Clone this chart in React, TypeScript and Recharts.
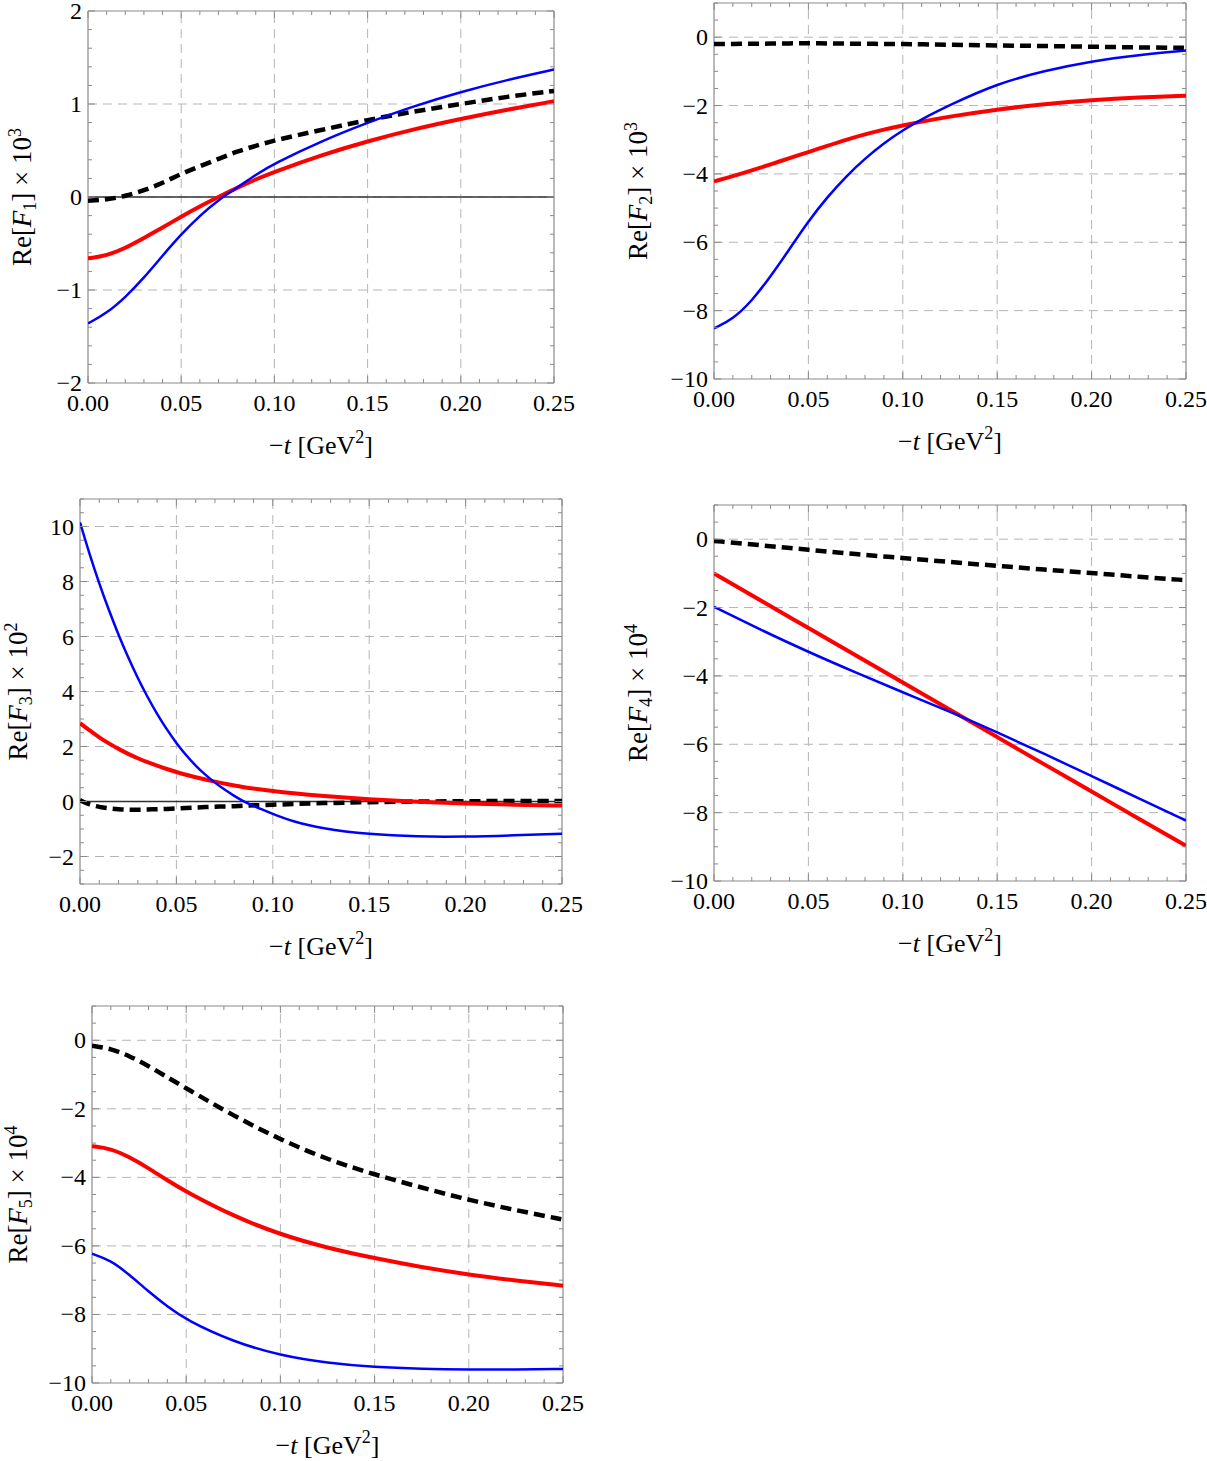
import React from 'react';
import { LineChart, Line, XAxis, YAxis, ReferenceLine } from 'recharts';

// ---------- data ----------
const X_MAJOR = [0, 0.05, 0.1, 0.15, 0.2, 0.25];
const X_LABELS = ['0.00', '0.05', '0.10', '0.15', '0.20', '0.25'];

// Panel 1: Re[F1] x 10^3
const T1 = [0, 0.01, 0.02, 0.03, 0.04, 0.05, 0.06, 0.07, 0.08, 0.09, 0.1, 0.125, 0.15, 0.175, 0.2, 0.225, 0.25];
const F1_BLUE = [-1.36, -1.25, -1.08, -0.87, -0.63, -0.4, -0.2, -0.03, 0.1, 0.24, 0.36, 0.6, 0.8, 0.98, 1.13, 1.26, 1.37];
const F1_RED = [-0.66, -0.63, -0.55, -0.44, -0.33, -0.21, -0.1, 0.0, 0.1, 0.19, 0.27, 0.45, 0.6, 0.73, 0.84, 0.94, 1.03];
const F1_BLACK = [-0.04, -0.03, 0.01, 0.07, 0.15, 0.25, 0.33, 0.41, 0.49, 0.55, 0.61, 0.72, 0.83, 0.92, 1.0, 1.08, 1.14];
const Y1_MAJOR = [-2, -1, 0, 1, 2];

// Panel 2: Re[F2] x 10^3
const T2 = [0, 0.01, 0.02, 0.03, 0.04, 0.05, 0.06, 0.07, 0.08, 0.09, 0.1, 0.11, 0.125, 0.15, 0.175, 0.2, 0.225, 0.25];
const F2_BLUE = [-8.52, -8.25, -7.72, -7.0, -6.2, -5.38, -4.68, -4.07, -3.55, -3.1, -2.72, -2.4, -1.98, -1.36, -0.98, -0.7, -0.52, -0.39];
const F2_RED = [-4.22, -4.07, -3.9, -3.72, -3.54, -3.36, -3.18, -3.0, -2.84, -2.7, -2.58, -2.47, -2.32, -2.11, -1.96, -1.84, -1.76, -1.71];
const F2_BLACK = [-0.2, -0.2, -0.19, -0.19, -0.18, -0.18, -0.18, -0.19, -0.19, -0.2, -0.2, -0.21, -0.22, -0.24, -0.26, -0.28, -0.3, -0.31];
const Y2_MAJOR = [-10, -8, -6, -4, -2, 0];

// Panel 3: Re[F3] x 10^2
const T3 = [0, 0.005, 0.01, 0.015, 0.02, 0.025, 0.03, 0.035, 0.04, 0.045, 0.05, 0.055, 0.06, 0.065, 0.07, 0.075, 0.08, 0.085, 0.09, 0.1, 0.11, 0.125, 0.15, 0.175, 0.2, 0.225, 0.25];
const F3_BLUE = [10.15, 8.98, 7.92, 6.95, 6.05, 5.23, 4.48, 3.8, 3.18, 2.62, 2.12, 1.68, 1.3, 0.97, 0.68, 0.43, 0.2, 0.0, -0.17, -0.45, -0.72, -0.98, -1.2, -1.28, -1.28, -1.23, -1.17];
const F3_RED = [2.85, 2.58, 2.33, 2.11, 1.91, 1.73, 1.57, 1.43, 1.3, 1.18, 1.07, 0.97, 0.88, 0.8, 0.72, 0.65, 0.58, 0.52, 0.47, 0.38, 0.3, 0.2, 0.08, -0.01, -0.07, -0.12, -0.15];
const F3_BLACK = [0.05, -0.12, -0.2, -0.25, -0.28, -0.3, -0.3, -0.29, -0.28, -0.27, -0.25, -0.24, -0.22, -0.2, -0.19, -0.18, -0.17, -0.15, -0.14, -0.12, -0.09, -0.06, -0.02, 0.0, 0.01, 0.02, 0.02];
const Y3_MAJOR = [-2, 0, 2, 4, 6, 8, 10];

// Panel 4: Re[F4] x 10^4
const T4 = [0, 0.025, 0.05, 0.075, 0.1, 0.125, 0.15, 0.175, 0.2, 0.225, 0.25];
const F4_BLUE = [-1.98, -2.66, -3.3, -3.9, -4.48, -5.05, -5.65, -6.28, -6.93, -7.58, -8.23];
const F4_RED = [-1.0, -1.8, -2.6, -3.4, -4.19, -4.99, -5.79, -6.59, -7.38, -8.18, -8.97];
const F4_BLACK = [-0.05, -0.18, -0.31, -0.44, -0.55, -0.67, -0.78, -0.89, -0.99, -1.1, -1.2];
const Y4_MAJOR = [-10, -8, -6, -4, -2, 0];

// Panel 5: Re[F5] x 10^4
const T5 = [0, 0.01, 0.02, 0.03, 0.04, 0.05, 0.075, 0.1, 0.125, 0.15, 0.175, 0.2, 0.225, 0.25];
const F5_BLUE = [-6.23, -6.42, -6.85, -7.33, -7.77, -8.16, -8.8, -9.2, -9.42, -9.54, -9.59, -9.61, -9.61, -9.59];
const F5_RED = [-3.09, -3.16, -3.41, -3.73, -4.09, -4.42, -5.13, -5.67, -6.06, -6.36, -6.62, -6.84, -7.01, -7.16];
const F5_BLACK = [-0.16, -0.24, -0.46, -0.75, -1.08, -1.4, -2.2, -2.9, -3.48, -3.92, -4.3, -4.66, -4.96, -5.23];
const Y5_MAJOR = [-10, -8, -6, -4, -2, 0];

// ---------- style ----------
const FONT = "'Liberation Serif', 'DejaVu Serif', serif";
const FS = 24;
const LFS = 27;
const SFS = 18;
const FRAME = '#8a8a8a';
const GRID = '#b5b5b5';
const BLUE = '#0000ff';
const RED = '#ff0000';

const ML = 100;
const MR = 25;
const MB = 85;
const MT = 20;
const AX = 1; // axis thickness reserved by recharts

function steps(a: number, b: number, step: number): number[] {
  const out: number[] = [];
  const n = Math.round((b - a) / step);
  for (let i = 0; i <= n; i++) out.push(Math.round((a + i * step) * 1e6) / 1e6);
  return out;
}
const isIn = (arr: number[], v: number) => arr.some((m) => Math.abs(m - v) < 1e-9);
const fmtY = (v: number) => (v < 0 ? '\u2212' + Math.abs(v) : String(v));
const fmtX = (v: number) => {
  const i = X_MAJOR.findIndex((m) => Math.abs(m - v) < 1e-9);
  return i >= 0 ? X_LABELS[i] : '';
};

type Panel = {
  key: string;
  l: number; t: number; w: number; h: number;
  tt: number[]; blue: number[]; red: number[]; black: number[];
  yDomain: [number, number]; yMajor: number[]; yMinor: number;
  sub: string; exp: string; zeroLine: boolean; labelOff: number;
};

const PANELS: Panel[] = [
  { key: 'p1', l: 88, t: 11, w: 466, h: 372, tt: T1, blue: F1_BLUE, red: F1_RED, black: F1_BLACK, yDomain: [-2, 2], yMajor: Y1_MAJOR, yMinor: 0.2, sub: '1', exp: '3', zeroLine: true, labelOff: 57 },
  { key: 'p2', l: 714, t: 3, w: 472, h: 376, tt: T2, blue: F2_BLUE, red: F2_RED, black: F2_BLACK, yDomain: [-10, 1], yMajor: Y2_MAJOR, yMinor: 0.5, sub: '2', exp: '3', zeroLine: false, labelOff: 67 },
  { key: 'p3', l: 80, t: 499, w: 482, h: 385, tt: T3, blue: F3_BLUE, red: F3_RED, black: F3_BLACK, yDomain: [-3, 11], yMajor: Y3_MAJOR, yMinor: 0.5, sub: '3', exp: '2', zeroLine: true, labelOff: 53 },
  { key: 'p4', l: 714, t: 505, w: 472, h: 376, tt: T4, blue: F4_BLUE, red: F4_RED, black: F4_BLACK, yDomain: [-10, 1], yMajor: Y4_MAJOR, yMinor: 0.5, sub: '4', exp: '4', zeroLine: false, labelOff: 67 },
  { key: 'p5', l: 92, t: 1006, w: 471, h: 377, tt: T5, blue: F5_BLUE, red: F5_RED, black: F5_BLACK, yDomain: [-10, 1], yMajor: Y5_MAJOR, yMinor: 0.5, sub: '5', exp: '4', zeroLine: false, labelOff: 65 },
];

function ChartPanel({ p }: { p: Panel }) {
  const data = p.tt.map((t, i) => ({ t, blue: p.blue[i], red: p.red[i], black: p.black[i] }));
  const xTicks = steps(0, 0.25, 0.01);
  const yTicks = steps(p.yDomain[0], p.yDomain[1], p.yMinor);
  const W = p.w;
  const H = p.h;

  const bottomTick = (props: any) => {
    const { x, y, payload } = props;
    const v = payload.value;
    const major = isIn(X_MAJOR, v);
    const len = major ? 7 : 4;
    return (
      <g>
        <line x1={x} x2={x} y1={y} y2={y - len} stroke={FRAME} strokeWidth={1} />
        <line x1={x} x2={x} y1={y - H} y2={y - H + len} stroke={FRAME} strokeWidth={1} />
        {major && (
          <text x={x} y={y + 28} textAnchor="middle" fontFamily={FONT} fontSize={FS} fill="#000">
            {fmtX(v)}
          </text>
        )}
      </g>
    );
  };

  const leftTick = (props: any) => {
    const { x, y, payload } = props;
    const v = payload.value;
    const major = isIn(p.yMajor, v);
    const len = major ? 7 : 4;
    return (
      <g>
        <line x1={x} x2={x + len} y1={y} y2={y} stroke={FRAME} strokeWidth={1} />
        <line x1={x + W} x2={x + W - len} y1={y} y2={y} stroke={FRAME} strokeWidth={1} />
        {major && (
          <text x={x - 6} y={y + 8} textAnchor="end" fontFamily={FONT} fontSize={FS} fill="#000">
            {fmtY(v)}
          </text>
        )}
      </g>
    );
  };

  const yLabel = (props: any) => {
    const vb = props.viewBox || { x: ML, y: MT, width: AX, height: H };
    const cx = vb.x + (vb.width || 0) - p.labelOff;
    const cy = vb.y + vb.height / 2;
    return (
      <text transform={`rotate(-90 ${cx} ${cy})`} x={cx} y={cy} textAnchor="middle" fontFamily={FONT} fontSize={LFS} fill="#000">
        Re[<tspan fontStyle="italic">F</tspan>
        <tspan fontSize={SFS} dy={5}>{p.sub}</tspan>
        <tspan dy={-5}>]</tspan> × 10<tspan fontSize={SFS} dy={-10}>{p.exp}</tspan>
      </text>
    );
  };

  const xLabel = (props: any) => {
    const vb = props.viewBox || { x: ML + AX, y: MT + H, width: W, height: AX };
    const cx = vb.x + vb.width / 2;
    const cy = vb.y + 71;
    return (
      <text x={cx} y={cy} textAnchor="middle" fontFamily={FONT} fontSize={26} fill="#000">
        {'\u2212'}<tspan fontStyle="italic">t</tspan> [GeV<tspan fontSize={SFS} dy={-11}>2</tspan>
        <tspan dy={11}>]</tspan>
      </text>
    );
  };

  return (
    <div style={{ position: 'absolute', left: p.l - ML - AX, top: p.t - MT }}>
      <LineChart width={W + ML + MR + AX} height={H + MT + MB + AX} data={data} margin={{ top: MT, right: MR, bottom: MB, left: ML }}>
        <XAxis
          dataKey="t"
          type="number"
          domain={[0, 0.25]}
          allowDataOverflow
          ticks={xTicks}
          interval={0}
          tickSize={0}
          tickMargin={0}
          tickLine={false}
          axisLine={false}
          height={AX}
          tick={bottomTick}
          label={{ content: xLabel }}
        />
        <YAxis
          type="number"
          domain={p.yDomain}
          allowDataOverflow
          ticks={yTicks}
          interval={0}
          tickSize={0}
          tickMargin={0}
          tickLine={false}
          axisLine={false}
          width={AX}
          tick={leftTick}
          label={{ content: yLabel }}
        />
        {X_MAJOR.filter((v) => v > 0 && v < 0.25).map((v) => (
          <ReferenceLine key={'gx' + v} x={v} stroke={GRID} strokeWidth={1} strokeDasharray="9 6" />
        ))}
        {p.yMajor.filter((v) => v > p.yDomain[0] && v < p.yDomain[1]).map((v) => (
          <ReferenceLine key={'gy' + v} y={v} stroke={GRID} strokeWidth={1} strokeDasharray="9 6" />
        ))}
        {p.zeroLine && <ReferenceLine y={0} stroke="#333" strokeWidth={1.3} />}
        <ReferenceLine x={0} stroke={FRAME} strokeWidth={1.2} />
        <ReferenceLine x={0.25} stroke={FRAME} strokeWidth={1.2} />
        <ReferenceLine y={p.yDomain[0]} stroke={FRAME} strokeWidth={1.2} />
        <ReferenceLine y={p.yDomain[1]} stroke={FRAME} strokeWidth={1.2} />
        <Line type="basis" dataKey="black" stroke="#000" strokeWidth={4.5} strokeDasharray="11 6" dot={false} isAnimationActive={false} />
        <Line type="basis" dataKey="red" stroke={RED} strokeWidth={4} dot={false} isAnimationActive={false} />
        <Line type="basis" dataKey="blue" stroke={BLUE} strokeWidth={2.5} dot={false} isAnimationActive={false} />
      </LineChart>
    </div>
  );
}

export default function App() {
  return (
    <div style={{ position: 'absolute', left: 0, top: 0, width: 1207, height: 1461, background: '#fff', overflow: 'hidden' }}>
      {PANELS.map((p) => (
        <ChartPanel key={p.key} p={p} />
      ))}
    </div>
  );
}
